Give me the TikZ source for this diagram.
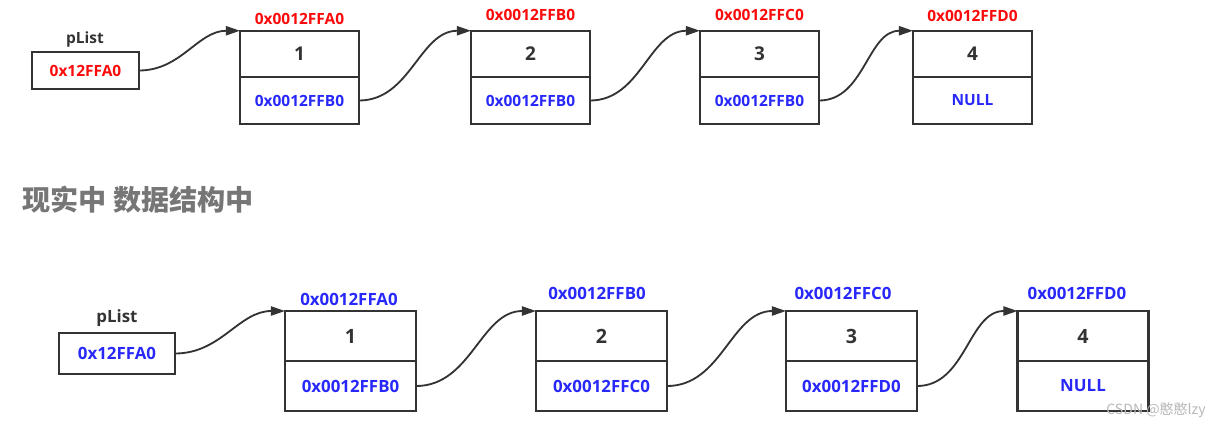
\documentclass[tikz,border=0pt]{standalone}
\usepackage{fontspec}
\setmainfont{Open Sans}
\newfontfamily\cjkfont{Noto Sans CJK SC}
\usetikzlibrary{arrows.meta,positioning}
\definecolor{addrred}{RGB}{250,10,10}
\definecolor{addrblue}{RGB}{40,40,250}
\definecolor{linegray}{RGB}{51,51,51}
\definecolor{titlegray}{RGB}{118,118,118}

\tikzset{
  cell/.style={draw=linegray, line width=1.6pt, outer sep=0pt, inner sep=0pt, text=linegray},
  topcell/.style={cell, minimum width=2.975cm, minimum height=1.1625cm, font=\bfseries\fontsize{11}{13}\selectfont},
  botcell/.style={cell, minimum width=3.275cm, minimum height=1.25cm, font=\bfseries\fontsize{12}{14}\selectfont},
  topdata/.style={topcell, font=\bfseries\fontsize{13.5}{15}\selectfont},
  botdata/.style={botcell, font=\bfseries\fontsize{14}{16}\selectfont},
  toptag/.style={font=\bfseries\fontsize{11}{13}\selectfont, inner sep=0pt},
  bottag/.style={font=\bfseries\fontsize{12}{14}\selectfont, inner sep=0pt},
  link/.style={draw=linegray, line width=1.3pt, -{Triangle[length=10pt,width=6.5pt]}},
}

\begin{document}
\begin{tikzpicture}[x=0.025cm, y=-0.025cm]

\useasboundingbox (0,0) rectangle (1222,428);
%\draw [help lines, step=10](0,0) grid (1222,428);

% what it looks like in memory
\node [topcell, minimum width=2.675cm, minimum height=0.925cm, text=addrred] (toplist) at (85.5,70.5) {0x12FFA0};
\node [toptag, text=linegray] (toplistname) at (85,39) {pList};

\node [topdata] (topval1) at (299.5,54) {1};
\node [topcell, below=0pt of topval1, text=addrblue] (topnext1) {0x0012FFB0};
\node [toptag, text=addrred] (topaddr1) at (299.5,19) {0x0012FFA0};

\node [topdata] (topval2) at (530.5,54) {2};
\node [topcell, below=0pt of topval2, text=addrblue] (topnext2) {0x0012FFB0};
\node [toptag, text=addrred] (topaddr2) at (530.5,15) {0x0012FFB0};

\node [topdata] (topval3) at (759.5,54) {3};
\node [topcell, below=0pt of topval3, text=addrblue] (topnext3) {0x0012FFB0};
\node [toptag, text=addrred] (topaddr3) at (759.5,15) {0x0012FFC0};

\node [topdata] (topval4) at (972.5,54) {4};
\node [topcell, below=0pt of topval4, text=addrblue] (topnext4) {NULL};
\node [toptag, text=addrred] (topaddr4) at (972.5,15.5) {0x0012FFD0};

\draw [link] (toplist.east) [out=0, in=180] to (topval1.north west);
\draw [link] (topnext1.east) [out=0, in=180] to (topval2.north west);
\draw [link] (topnext2.east) [out=0, in=180] to (topval3.north west);
\draw [link] (topnext3.east) [out=0, in=180] to (topval4.north west);

% heading
\node [anchor=west, inner sep=0pt, text=titlegray, font=\cjkfont\bfseries\fontsize{20}{23}\selectfont] (heading) at (22,199.5) {现实中 数据结构中};

% what the data structure says
\node [botcell, minimum width=2.9cm, minimum height=1.025cm, text=addrblue] (botlist) at (117,353.5) {0x12FFA0};
\node [bottag, text=linegray] (botlistname) at (117,318.5) {pList};

\node [botdata] (botval1) at (350.5,336) {1};
\node [botcell, below=0pt of botval1, text=addrblue] (botnext1) {0x0012FFB0};
\node [bottag, text=addrblue] (botaddr1) at (349,299) {0x0012FFA0};

\node [botdata] (botval2) at (601.5,336) {2};
\node [botcell, below=0pt of botval2, text=addrblue] (botnext2) {0x0012FFC0};
\node [bottag, text=addrblue] (botaddr2) at (597,293.5) {0x0012FFB0};

\node [botdata] (botval3) at (851.5,336) {3};
\node [botcell, below=0pt of botval3, text=addrblue] (botnext3) {0x0012FFD0};
\node [bottag, text=addrblue] (botaddr3) at (843,293.5) {0x0012FFC0};

\node [botdata] (botval4) at (1083,336) {4};
\node [botcell, below=0pt of botval4, text=addrblue] (botnext4) {NULL};
\node [bottag, text=addrblue] (botaddr4) at (1077,293.5) {0x0012FFD0};

\draw [link] (botlist.east) [out=0, in=180] to (botval1.north west);
\draw [link] (botnext1.east) [out=0, in=180] to (botval2.north west);
\draw [link] (botnext2.east) [out=0, in=180] to (botval3.north west);
\draw [link] (botnext3.east) [out=0, in=180] to (botval4.north west);

\node [inner sep=0pt, text=gray!55, font=\cjkfont\fontsize{10}{12}\selectfont] (mark) at (1156,410) {CSDN @憨憨lzy};

\end{tikzpicture}
\end{document}
